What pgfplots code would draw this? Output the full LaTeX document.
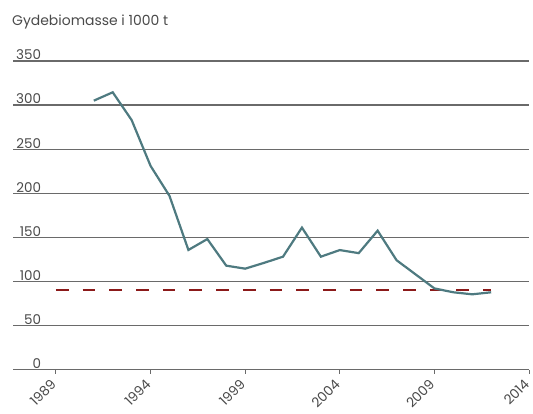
\documentclass[border=0pt]{standalone}
\usepackage{pgfplots}
\pgfplotsset{compat=1.18}
\usepackage{fontspec}
\setmainfont{Poppins}
\definecolor{linecol}{HTML}{4E7A80}
\definecolor{refcol}{HTML}{8B1A1A}
\definecolor{gridcol}{HTML}{6A6A6A}
\definecolor{txtcol}{HTML}{4A4A4A}
\begin{document}
\begin{tikzpicture}
\path[use as bounding box] (-13bp,-44.5bp) rectangle (520bp,369.5bp);
\begin{axis}[
  at={(0,0)}, anchor=south west,
  scale only axis,
  width=516bp, height=308.5bp,
  xmin=1986.73, xmax=2014,
  ymin=0, ymax=350,
  xtick={1989,1994,1999,2004,2009,2014},
  ytick={0,50,100,150,200,250,300,350},
  /pgf/number format/set thousands separator={},
  /pgf/number format/assume math mode=true,
  axis x line*=bottom,
  axis y line*=left,
  y axis line style={draw=none},
  x axis line style={draw=gridcol, line width=1.2bp},
  ytick style={draw=none},
  xtick style={draw=gridcol, line width=1bp},
  xtick align=outside,
  major tick length=4bp,
  ymajorgrids,
  major grid style={draw=gridcol, line width=1.2bp},
  tick label style={font=\fontsize{13.5}{15}\selectfont, text=txtcol},
  yticklabel style={anchor=south east, xshift=31.5bp, yshift=-2.5bp},
  xticklabel style={xshift=0bp, yshift=-6bp, rotate=45, anchor=east},
  clip=false,
]
\addplot[color=refcol, line width=2bp, dash pattern=on 12.7bp off 14bp] coordinates {(1989,90) (2012,90)};
\addplot[color=linecol, line width=2.2bp, line join=miter] coordinates {
(1991,305) (1992,314.5) (1993,283) (1994,231) (1995,197) (1996,135.6)
(1997,148) (1998,117.8) (1999,114.4) (2000,121) (2001,128) (2002,161)
(2003,128) (2004,135.5) (2005,132) (2006,157.5) (2007,124) (2008,108)
(2009,92) (2010,87.6) (2011,85.3) (2012,87.6)};
\end{axis}
\node[anchor=west, inner sep=0pt, text=txtcol, font=\fontsize{14}{16}\selectfont] at (-1bp,347.5bp) {Gydebiomasse i 1000 t};
\end{tikzpicture}
\end{document}
